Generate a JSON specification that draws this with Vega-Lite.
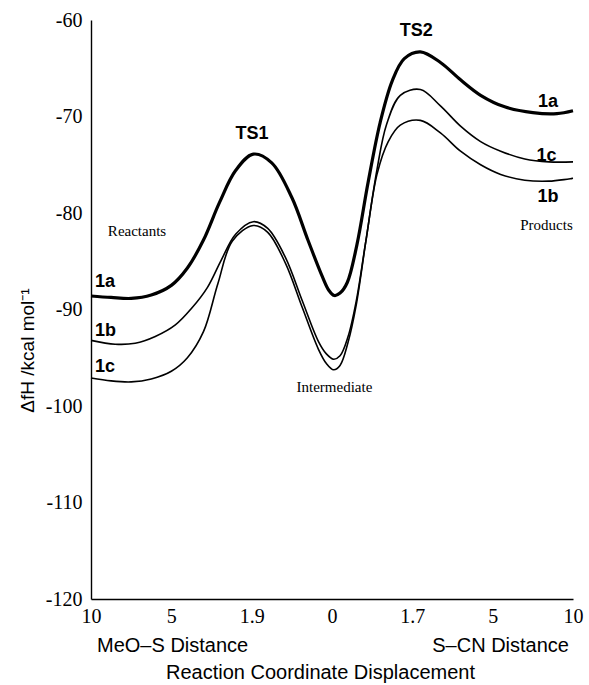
{
  "$schema": "https://vega.github.io/schema/vega-lite/v6.json",
  "autosize": "none",
  "width": 482,
  "height": 579,
  "padding": {"left": 91, "top": 20, "right": 16, "bottom": 86},
  "background": "white",
  "config": {
    "view": {"stroke": null},
    "axis": {"grid": false, "domainColor": "black", "domainWidth": 1.4, "ticks": false, "tickSize": 0, "labelColor": "black", "titleColor": "black"}
  },
  "datasets": {
    "curves": [
      {"s": "1a", "x": 0, "y": -88.6}, {"s": "1a", "x": 0.25, "y": -88.75}, {"s": "1a", "x": 0.5, "y": -88.85},
      {"s": "1a", "x": 0.75, "y": -88.5}, {"s": "1a", "x": 1.0, "y": -87.5}, {"s": "1a", "x": 1.2, "y": -85.7},
      {"s": "1a", "x": 1.4, "y": -82.8}, {"s": "1a", "x": 1.6, "y": -78.9}, {"s": "1a", "x": 1.8, "y": -75.6},
      {"s": "1a", "x": 2.02, "y": -73.9}, {"s": "1a", "x": 2.25, "y": -74.8}, {"s": "1a", "x": 2.5, "y": -78.4},
      {"s": "1a", "x": 2.7, "y": -82.8}, {"s": "1a", "x": 2.88, "y": -86.6}, {"s": "1a", "x": 2.96, "y": -88.0},
      {"s": "1a", "x": 3.03, "y": -88.55}, {"s": "1a", "x": 3.1, "y": -88.3}, {"s": "1a", "x": 3.19, "y": -87.2},
      {"s": "1a", "x": 3.31, "y": -83.3}, {"s": "1a", "x": 3.45, "y": -76.8},
      {"s": "1a", "x": 3.6, "y": -70.6}, {"s": "1a", "x": 3.75, "y": -66.3}, {"s": "1a", "x": 3.9, "y": -64.0},
      {"s": "1a", "x": 4.1, "y": -63.3}, {"s": "1a", "x": 4.35, "y": -64.4}, {"s": "1a", "x": 4.6, "y": -66.2},
      {"s": "1a", "x": 4.85, "y": -67.8}, {"s": "1a", "x": 5.15, "y": -69.0}, {"s": "1a", "x": 5.5, "y": -69.6},
      {"s": "1a", "x": 5.8, "y": -69.7}, {"s": "1a", "x": 6.0, "y": -69.4},
      {"s": "1b", "x": 0, "y": -93.2}, {"s": "1b", "x": 0.3, "y": -93.6}, {"s": "1b", "x": 0.55, "y": -93.5},
      {"s": "1b", "x": 0.8, "y": -92.8}, {"s": "1b", "x": 1.05, "y": -91.6}, {"s": "1b", "x": 1.25, "y": -89.9},
      {"s": "1b", "x": 1.45, "y": -87.7}, {"s": "1b", "x": 1.62, "y": -84.9}, {"s": "1b", "x": 1.8, "y": -82.2},
      {"s": "1b", "x": 2.02, "y": -80.9}, {"s": "1b", "x": 2.2, "y": -81.6}, {"s": "1b", "x": 2.42, "y": -84.6},
      {"s": "1b", "x": 2.63, "y": -89.1}, {"s": "1b", "x": 2.83, "y": -93.3}, {"s": "1b", "x": 2.93, "y": -94.6},
      {"s": "1b", "x": 3.02, "y": -95.15}, {"s": "1b", "x": 3.1, "y": -94.8}, {"s": "1b", "x": 3.2, "y": -92.8},
      {"s": "1b", "x": 3.3, "y": -89.2}, {"s": "1b", "x": 3.42, "y": -83.0},
      {"s": "1b", "x": 3.56, "y": -76.0}, {"s": "1b", "x": 3.7, "y": -72.6}, {"s": "1b", "x": 3.85, "y": -70.9},
      {"s": "1b", "x": 4.1, "y": -70.4}, {"s": "1b", "x": 4.35, "y": -71.7}, {"s": "1b", "x": 4.6, "y": -73.6},
      {"s": "1b", "x": 4.85, "y": -75.0}, {"s": "1b", "x": 5.1, "y": -76.0}, {"s": "1b", "x": 5.4, "y": -76.6},
      {"s": "1b", "x": 5.7, "y": -76.7}, {"s": "1b", "x": 6.0, "y": -76.4},
      {"s": "1c", "x": 0, "y": -97.1}, {"s": "1c", "x": 0.25, "y": -97.4}, {"s": "1c", "x": 0.5, "y": -97.5},
      {"s": "1c", "x": 0.75, "y": -97.2}, {"s": "1c", "x": 1.0, "y": -96.4}, {"s": "1c", "x": 1.2, "y": -95.0},
      {"s": "1c", "x": 1.4, "y": -92.3}, {"s": "1c", "x": 1.58, "y": -87.3}, {"s": "1c", "x": 1.76, "y": -82.9},
      {"s": "1c", "x": 2.02, "y": -81.3}, {"s": "1c", "x": 2.2, "y": -82.0}, {"s": "1c", "x": 2.42, "y": -85.2},
      {"s": "1c", "x": 2.63, "y": -89.8}, {"s": "1c", "x": 2.83, "y": -94.1}, {"s": "1c", "x": 2.93, "y": -95.6},
      {"s": "1c", "x": 3.02, "y": -96.25}, {"s": "1c", "x": 3.1, "y": -95.8}, {"s": "1c", "x": 3.2, "y": -93.4},
      {"s": "1c", "x": 3.3, "y": -89.6}, {"s": "1c", "x": 3.42, "y": -83.0},
      {"s": "1c", "x": 3.56, "y": -75.5}, {"s": "1c", "x": 3.68, "y": -70.8}, {"s": "1c", "x": 3.85, "y": -67.8},
      {"s": "1c", "x": 4.1, "y": -67.2}, {"s": "1c", "x": 4.35, "y": -68.9}, {"s": "1c", "x": 4.6, "y": -71.0},
      {"s": "1c", "x": 4.85, "y": -72.6}, {"s": "1c", "x": 5.1, "y": -73.6}, {"s": "1c", "x": 5.4, "y": -74.4},
      {"s": "1c", "x": 5.7, "y": -74.7}, {"s": "1c", "x": 6.0, "y": -74.7}
    ],
    "boldCenter": [
      {"label": "TS1", "x": 2.005, "y": -71.8},
      {"label": "TS2", "x": 4.05, "y": -61.1},
      {"label": "1a", "x": 5.69, "y": -68.5},
      {"label": "1c", "x": 5.67, "y": -74.1},
      {"label": "1b", "x": 5.69, "y": -78.3}
    ],
    "boldLeft": [
      {"label": "1a", "x": 0.05, "y": -87.15},
      {"label": "1b", "x": 0.05, "y": -92.2},
      {"label": "1c", "x": 0.05, "y": -96.0}
    ],
    "notes": [
      {"label": "Reactants", "x": 0.573, "y": -81.9},
      {"label": "Products", "x": 5.67, "y": -81.2},
      {"label": "Intermediate", "x": 3.03, "y": -98.0}
    ],
    "leftAxisNote": [{"label": "MeO–S Distance", "x": 0.075, "y": -124.9}],
    "rightAxisNote": [{"label": "S–CN Distance", "x": 5.95, "y": -124.9}]
  },
  "layer": [
    {
      "data": {"name": "curves"},
      "mark": {"type": "line", "interpolate": "catmull-rom", "color": "black", "clip": false},
      "encoding": {
        "x": {
          "field": "x", "type": "quantitative",
          "scale": {"domain": [0, 6], "nice": false, "zero": false},
          "axis": {
            "values": [0, 1, 2, 3, 4, 5, 6],
            "labelExpr": "['10','5','1.9','0','1.7','5','10'][datum.value]",
            "labelFont": "Liberation Serif", "labelFontSize": 20, "labelPadding": 7,
            "labelFlush": false, "labelOverlap": false,
            "title": "Reaction Coordinate Displacement",
            "titleFont": "Liberation Sans", "titleFontSize": 20, "titleFontWeight": "normal",
            "titleX": 229, "titleY": 73, "titleAlign": "center", "titleBaseline": "middle"
          }
        },
        "y": {
          "field": "y", "type": "quantitative",
          "scale": {"domain": [-120, -60], "nice": false, "zero": false},
          "axis": {
            "values": [-120, -110, -100, -90, -80, -70, -60],
            "labelExpr": "'' + datum.value",
            "labelFont": "Liberation Serif", "labelFontSize": 20, "labelPadding": 9,
            "labelFlush": false, "labelOverlap": false,
            "title": "ΔfH /kcal mol⁻¹",
            "titleFont": "Liberation Sans", "titleFontSize": 19, "titleFontWeight": "normal",
            "titleX": -64, "titleY": 330, "titleAlign": "center", "titleBaseline": "middle", "titleAngle": 270
          }
        },
        "detail": {"field": "s", "type": "nominal"},
        "strokeWidth": {"field": "s", "type": "nominal", "scale": {"type": "ordinal", "domain": ["1a", "1b", "1c"], "range": [3.2, 1.6, 1.6]}, "legend": null}
      }
    },
    {
      "data": {"name": "boldCenter"},
      "mark": {"type": "text", "font": "Liberation Sans", "fontWeight": "bold", "fontSize": 18, "align": "center", "baseline": "middle", "color": "black"},
      "encoding": {"x": {"field": "x", "type": "quantitative"}, "y": {"field": "y", "type": "quantitative"}, "text": {"field": "label"}}
    },
    {
      "data": {"name": "boldLeft"},
      "mark": {"type": "text", "font": "Liberation Sans", "fontWeight": "bold", "fontSize": 18, "align": "left", "baseline": "middle", "color": "black"},
      "encoding": {"x": {"field": "x", "type": "quantitative"}, "y": {"field": "y", "type": "quantitative"}, "text": {"field": "label"}}
    },
    {
      "data": {"name": "notes"},
      "mark": {"type": "text", "font": "Liberation Serif", "fontSize": 15, "align": "center", "baseline": "middle", "color": "black"},
      "encoding": {"x": {"field": "x", "type": "quantitative"}, "y": {"field": "y", "type": "quantitative"}, "text": {"field": "label"}}
    },
    {
      "data": {"name": "leftAxisNote"},
      "mark": {"type": "text", "font": "Liberation Sans", "fontSize": 20, "align": "left", "baseline": "middle", "color": "black", "clip": false},
      "encoding": {"x": {"field": "x", "type": "quantitative"}, "y": {"field": "y", "type": "quantitative"}, "text": {"field": "label"}}
    },
    {
      "data": {"name": "rightAxisNote"},
      "mark": {"type": "text", "font": "Liberation Sans", "fontSize": 20, "align": "right", "baseline": "middle", "color": "black", "clip": false},
      "encoding": {"x": {"field": "x", "type": "quantitative"}, "y": {"field": "y", "type": "quantitative"}, "text": {"field": "label"}}
    }
  ]
}
